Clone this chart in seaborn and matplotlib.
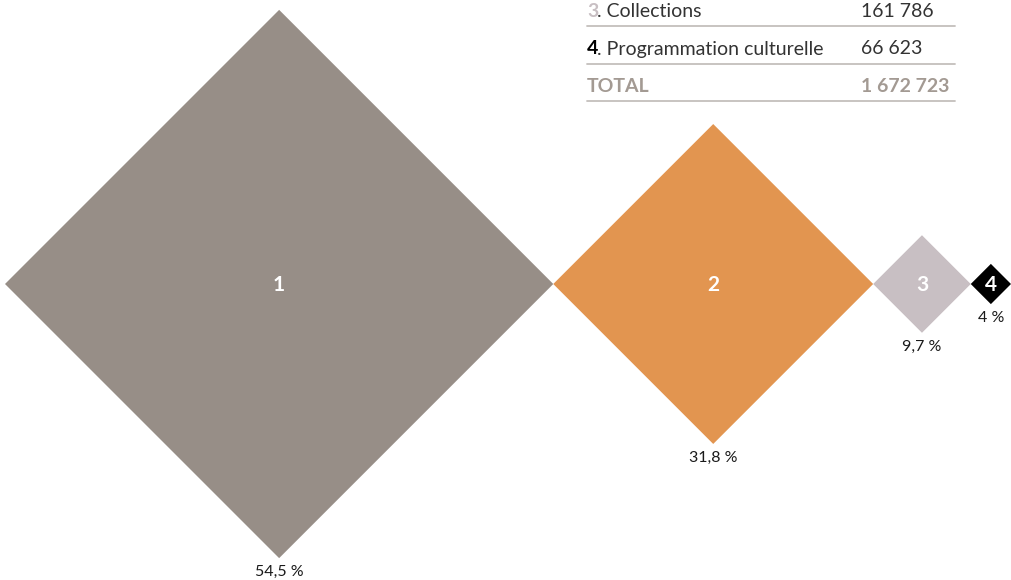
import matplotlib.pyplot as plt
import seaborn as sns

# share of the total per category (percent)
labels = ["1", "2", "3", "4"]
pcts = [54.5, 31.8, 9.7, 4.0]
pct_text = ["54,5 %", "31,8 %", "9,7 %", "4 %"]
colors = ["#978e87", "#e29550", "#c8bfc3", "#000000"]

# visible part of the table
row_nums = ["3", "4"]
row_names = ["Collections", "Programmation culturelle"]
row_values = ["161 786", "66 623"]
row_num_colors = ["#c8bfc3", "#000000"]
total_value = "1 672 723"

sns.set_style("white")
plt.rcParams["font.family"] = ["Lato", "DejaVu Sans"]

fig = plt.figure(figsize=(10.11, 5.8), dpi=100)
ax = fig.add_axes([0, 0, 1, 1])
ax.set_xlim(0, 1011)
ax.set_ylim(580, 0)
ax.axis("off")

k = 5.03  # half diagonal per percent
cy = 284
left = 5
for lab, p, txt, c in zip(labels, pcts, pct_text, colors):
    h = p * k
    cx = left + h
    ax.fill([cx - h, cx, cx + h, cx], [cy, cy - h, cy, cy + h], color=c, lw=0)
    ax.text(cx, cy + 1, lab, color="white", fontsize=15, fontweight="bold",
            ha="center", va="center")
    ax.text(cx, cy + h + 7, txt, color="#1a1a1a", fontsize=11.5,
            ha="center", va="top")
    left = cx + h

# table
x0, xv, x1 = 587, 861, 955
line_c = "#c4bfbc"
for i, (n, name, v, nc) in enumerate(zip(row_nums, row_names, row_values, row_num_colors)):
    base = 17 + i * 37.5
    ax.text(x0, base, n, color=nc, fontsize=14, fontweight="bold", ha="left", va="baseline")
    ax.text(x0 + 10, base, ". " + name, color="#333333", fontsize=14, ha="left", va="baseline")
    ax.text(xv, base, v, color="#333333", fontsize=14, ha="left", va="baseline")
    ax.plot([x0, x1], [base + 9, base + 9], color=line_c, lw=1.3)

base = 17 + 2 * 37.5
ax.text(x0, base, "TOTAL", color="#a39a93", fontsize=14, fontweight="bold", ha="left", va="baseline")
ax.text(xv, base, total_value, color="#a39a93", fontsize=14, fontweight="bold", ha="left", va="baseline")
ax.plot([x0, x1], [base + 9, base + 9], color=line_c, lw=1.3)

fig.savefig("out.png", dpi=100)
